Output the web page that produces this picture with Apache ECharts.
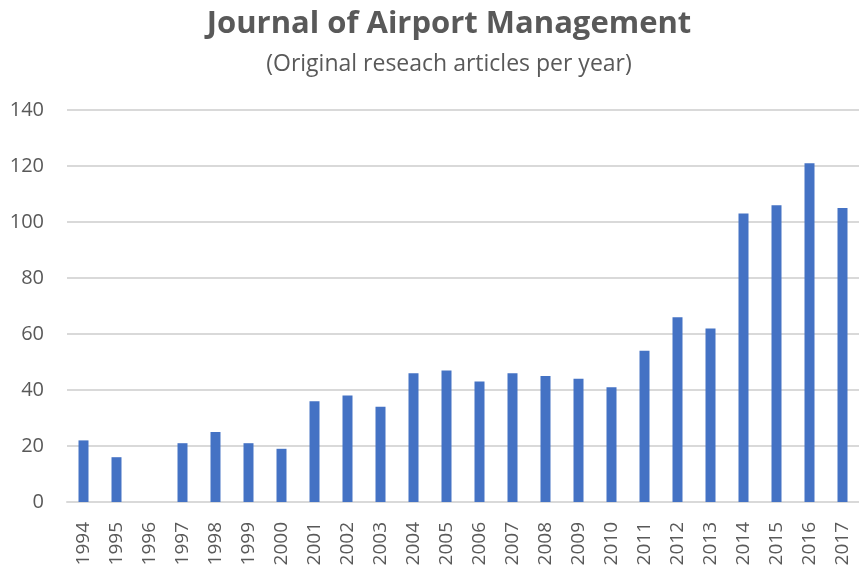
<!DOCTYPE html>
<html>
<head>
<meta charset="utf-8">
<script src="https://cdn.jsdelivr.net/npm/echarts@6/dist/echarts.min.js"></script>
<style>
  html, body { margin: 0; padding: 0; background: #fff; }
  #chart { width: 859px; height: 570px; }
</style>
</head>
<body>
<div id="chart"></div>
<script>
const years = ['1994', '1995', '1996', '1997', '1998', '1999', '2000', '2001', '2002', '2003', '2004', '2005',
  '2006', '2007', '2008', '2009', '2010', '2011', '2012', '2013', '2014', '2015', '2016', '2017'];
const articles = [22, 16, 0, 21, 25, 21, 19, 36, 38, 34, 46, 47, 43, 46, 45, 44, 41, 54, 66, 62, 103, 106, 121, 105];

const textColor = '#595959';
const font = '"Open Sans", Lato, sans-serif';

const chart = echarts.init(document.getElementById('chart'));
chart.setOption({
  animation: false,
  title: [
    {
      text: 'Journal of Airport Management',
      left: 444,
      top: 4,
      textAlign: 'center',
      textStyle: { fontFamily: font, fontSize: 31, fontWeight: 'bold', color: textColor }
    },
    {
      text: '(Original reseach articles per year)',
      left: 444,
      top: 48,
      textAlign: 'center',
      textStyle: { fontFamily: font, fontSize: 23, fontWeight: 'normal', color: textColor }
    }
  ],
  grid: {
    left: 67,
    right: -10,
    top: 110,
    bottom: 68,
    containLabel: false
  },
  xAxis: {
    type: 'category',
    data: years,
    axisLine: { lineStyle: { color: '#d9d9d9', width: 2 } },
    axisTick: { show: false },
    axisLabel: {
      rotate: 90,
      margin: 20,
      color: textColor,
      fontFamily: font,
      fontSize: 19,
      interval: 0
    }
  },
  yAxis: {
    type: 'value',
    min: 0,
    max: 140,
    interval: 20,
    axisLine: { show: false },
    axisTick: { show: false },
    splitLine: { lineStyle: { color: '#d9d9d9', width: 2 } },
    axisLabel: {
      margin: 23,
      color: textColor,
      fontFamily: font,
      fontSize: 20
    }
  },
  series: [
    {
      type: 'bar',
      data: articles,
      barWidth: 10,
      itemStyle: { color: '#4472c4' }
    }
  ]
});
</script>
</body>
</html>
